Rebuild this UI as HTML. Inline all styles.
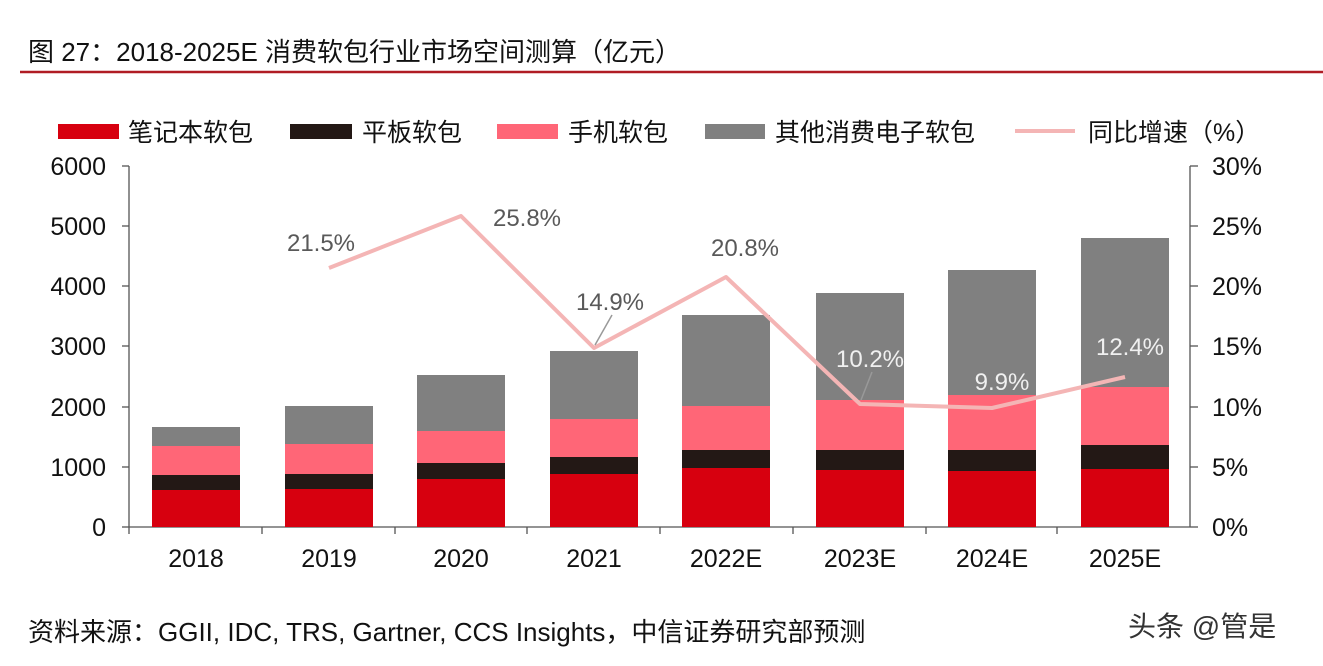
<!DOCTYPE html>
<html><head><meta charset="utf-8"><style>
body{margin:0;background:#fff;}
svg text{font-family:"Liberation Sans","Noto Sans CJK SC",sans-serif;}
</style></head><body>
<svg width="1323" height="661" viewBox="0 0 1323 661" xmlns="http://www.w3.org/2000/svg">
<rect width="1323" height="661" fill="#fff"/>
<text x="28" y="61" font-size="26" fill="#111">图 27：2018-2025E 消费软包行业市场空间测算（亿元）</text>
<line x1="20" y1="72" x2="1323" y2="72" stroke="#b01c24" stroke-width="2.5"/>
<g font-size="25" fill="#111">
<rect x="58" y="124" width="61" height="15" fill="#d7000f"/><text x="128" y="141">笔记本软包</text>
<rect x="290" y="124" width="62" height="15" fill="#231815"/><text x="362" y="141">平板软包</text>
<rect x="497" y="124" width="61" height="15" fill="#ff6677"/><text x="568" y="141">手机软包</text>
<rect x="705" y="124" width="60" height="15" fill="#808080"/><text x="775" y="141">其他消费电子软包</text>
<line x1="1015" y1="131" x2="1075" y2="131" stroke="#f4b5b5" stroke-width="4"/><text x="1088" y="141">同比增速（%）</text>
</g>
<g stroke="#555" stroke-width="1.3">
<line x1="129" y1="166" x2="129" y2="527"/>
<line x1="1190" y1="166" x2="1190" y2="527"/>
<line x1="129" y1="527" x2="1190" y2="527"/>
<line x1="122" y1="166" x2="129" y2="166"/><line x1="122" y1="226" x2="129" y2="226"/><line x1="122" y1="286" x2="129" y2="286"/><line x1="122" y1="346" x2="129" y2="346"/><line x1="122" y1="407" x2="129" y2="407"/><line x1="122" y1="467" x2="129" y2="467"/><line x1="122" y1="527" x2="129" y2="527"/>
<line x1="1190" y1="166" x2="1198" y2="166"/><line x1="1190" y1="226" x2="1198" y2="226"/><line x1="1190" y1="286" x2="1198" y2="286"/><line x1="1190" y1="346" x2="1198" y2="346"/><line x1="1190" y1="407" x2="1198" y2="407"/><line x1="1190" y1="467" x2="1198" y2="467"/><line x1="1190" y1="527" x2="1198" y2="527"/>
<line x1="129" y1="527" x2="129" y2="534"/><line x1="262" y1="527" x2="262" y2="534"/><line x1="395" y1="527" x2="395" y2="534"/><line x1="527" y1="527" x2="527" y2="534"/><line x1="660" y1="527" x2="660" y2="534"/><line x1="793" y1="527" x2="793" y2="534"/><line x1="926" y1="527" x2="926" y2="534"/><line x1="1057" y1="527" x2="1057" y2="534"/>
</g>
<g font-size="25" fill="#111" text-anchor="end">
<text x="106" y="175">6000</text><text x="106" y="235">5000</text><text x="106" y="295">4000</text><text x="106" y="355">3000</text><text x="106" y="416">2000</text><text x="106" y="476">1000</text><text x="106" y="536">0</text>
</g>
<g font-size="25" fill="#111">
<text x="1212" y="175">30%</text><text x="1212" y="235">25%</text><text x="1212" y="295">20%</text><text x="1212" y="355">15%</text><text x="1212" y="416">10%</text><text x="1212" y="476">5%</text><text x="1212" y="536">0%</text>
</g>
<g font-size="25" fill="#111" text-anchor="middle">
<text x="196" y="567">2018</text><text x="329" y="567">2019</text><text x="461" y="567">2020</text><text x="594" y="567">2021</text><text x="726" y="567">2022E</text><text x="860" y="567">2023E</text><text x="992" y="567">2024E</text><text x="1125" y="567">2025E</text>
</g>
<g>
<rect x="152" y="427" width="88" height="19" fill="#808080"/><rect x="152" y="446" width="88" height="29" fill="#ff6677"/><rect x="152" y="475" width="88" height="15" fill="#231815"/><rect x="152" y="490" width="88" height="37" fill="#d7000f"/>
<rect x="285" y="406" width="88" height="38" fill="#808080"/><rect x="285" y="444" width="88" height="30" fill="#ff6677"/><rect x="285" y="474" width="88" height="15" fill="#231815"/><rect x="285" y="489" width="88" height="38" fill="#d7000f"/>
<rect x="417" y="375" width="88" height="56" fill="#808080"/><rect x="417" y="431" width="88" height="32" fill="#ff6677"/><rect x="417" y="463" width="88" height="16" fill="#231815"/><rect x="417" y="479" width="88" height="48" fill="#d7000f"/>
<rect x="550" y="351" width="88" height="68" fill="#808080"/><rect x="550" y="419" width="88" height="38" fill="#ff6677"/><rect x="550" y="457" width="88" height="17" fill="#231815"/><rect x="550" y="474" width="88" height="53" fill="#d7000f"/>
<rect x="682" y="315" width="88" height="91" fill="#808080"/><rect x="682" y="406" width="88" height="44" fill="#ff6677"/><rect x="682" y="450" width="88" height="18" fill="#231815"/><rect x="682" y="468" width="88" height="59" fill="#d7000f"/>
<rect x="816" y="293" width="88" height="107" fill="#808080"/><rect x="816" y="400" width="88" height="50" fill="#ff6677"/><rect x="816" y="450" width="88" height="20" fill="#231815"/><rect x="816" y="470" width="88" height="57" fill="#d7000f"/>
<rect x="948" y="270" width="88" height="125" fill="#808080"/><rect x="948" y="395" width="88" height="55" fill="#ff6677"/><rect x="948" y="450" width="88" height="21" fill="#231815"/><rect x="948" y="471" width="88" height="56" fill="#d7000f"/>
<rect x="1081" y="238" width="88" height="149" fill="#808080"/><rect x="1081" y="387" width="88" height="58" fill="#ff6677"/><rect x="1081" y="445" width="88" height="24" fill="#231815"/><rect x="1081" y="469" width="88" height="58" fill="#d7000f"/>
</g>
<polyline points="329,268 461,216 594,348 726,277 860,404 992,408 1125,377" fill="none" stroke="#f4b5b5" stroke-width="4" stroke-linejoin="round"/>
<g stroke="#999" stroke-width="1.5"><line x1="612" y1="315" x2="595" y2="345"/><line x1="872" y1="372" x2="861" y2="400"/></g>
<g font-size="24" text-anchor="middle">
<text x="321" y="251" fill="#595959">21.5%</text>
<text x="527" y="226" fill="#595959">25.8%</text>
<text x="610" y="310" fill="#595959">14.9%</text>
<text x="745" y="256" fill="#595959">20.8%</text>
<text x="870" y="367" fill="#f0f0f0">10.2%</text>
<text x="1002" y="390" fill="#f0f0f0">9.9%</text>
<text x="1130" y="355" fill="#f0f0f0">12.4%</text>
</g>
<text x="28" y="641" font-size="26" fill="#111">资料来源：GGII, IDC, TRS, Gartner, CCS Insights，中信证券研究部预测</text>
<text x="1128" y="636" font-size="28" fill="#333">头条 @管是</text>
</svg>
</body></html>
